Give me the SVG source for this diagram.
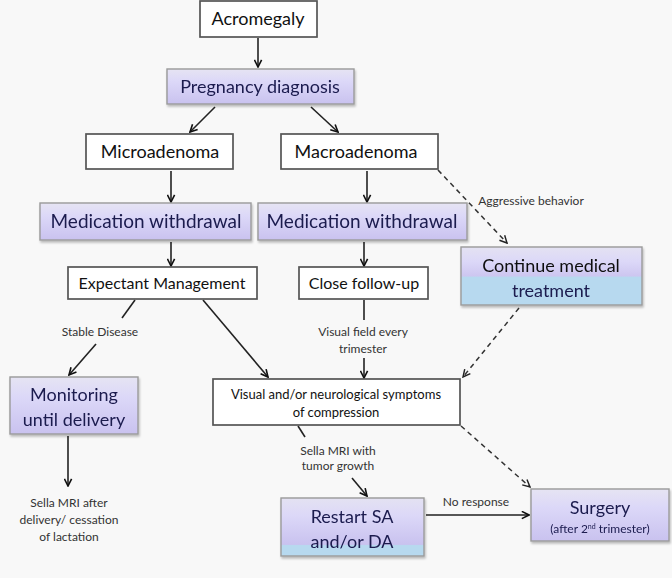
<svg xmlns="http://www.w3.org/2000/svg" width="672" height="578" viewBox="0 0 672 578">
<style>
text{font-family:Lato,"Open Sans","Liberation Sans",sans-serif;fill:#111;text-anchor:middle}
.w{fill:#fff;stroke:#555;stroke-width:1.7}
.p{fill:url(#lav);stroke:#9a9a9a;stroke-width:1.4}
.big{font-size:18px}
.nav{fill:#1a1a4e}
.sm{font-size:12px;fill:#333}
.ln{stroke:#222;stroke-width:1.6;fill:none}
.ds{stroke:#333;stroke-width:1.5;fill:none;stroke-dasharray:5 4}
</style>
<defs>
<linearGradient id="lav" x1="0" y1="0" x2="0" y2="1">
<stop offset="0" stop-color="#e6e4f3"/><stop offset="0.35" stop-color="#dcd8f8"/><stop offset="1" stop-color="#c9c2ef"/>
</linearGradient>
<linearGradient id="lavb1" x1="0" y1="0" x2="0" y2="1">
<stop offset="0" stop-color="#e4e2f2"/><stop offset="0.25" stop-color="#dcd8f8"/><stop offset="0.5" stop-color="#cdc6f0"/><stop offset="0.52" stop-color="#b7d9ef"/><stop offset="1" stop-color="#b7d9ef"/>
</linearGradient>
<linearGradient id="lavb2" x1="0" y1="0" x2="0" y2="1">
<stop offset="0" stop-color="#e4e2f2"/><stop offset="0.3" stop-color="#dcd8f8"/><stop offset="0.8" stop-color="#c9c2ef"/><stop offset="0.82" stop-color="#b7d9ef"/><stop offset="1" stop-color="#b7d9ef"/>
</linearGradient>
<filter id="sh" x="-10%" y="-10%" width="120%" height="130%"><feDropShadow dx="1" dy="2" stdDeviation="1.2" flood-color="#000" flood-opacity="0.25"/></filter>
<marker id="ah" viewBox="0 0 10 10" refX="9" refY="5" markerWidth="9" markerHeight="9" orient="auto" markerUnits="userSpaceOnUse"><path d="M1,1 L9,5 L1,9" fill="none" stroke="#111" stroke-width="1.8"/></marker>
<marker id="ahd" viewBox="0 0 10 10" refX="9" refY="5" markerWidth="9" markerHeight="9" orient="auto" markerUnits="userSpaceOnUse"><path d="M1,1 L9,5 L1,9" fill="none" stroke="#222" stroke-width="1.6"/></marker>
</defs>
<rect width="672" height="578" fill="#f8f8f8"/>

<g id="connectors">
<line class="ln" x1="258" y1="38" x2="258" y2="67" marker-end="url(#ah)"/>
<line class="ln" x1="215" y1="107" x2="190" y2="132" marker-end="url(#ah)"/>
<line class="ln" x1="311" y1="107" x2="338" y2="132" marker-end="url(#ah)"/>
<line class="ln" x1="171" y1="171" x2="171" y2="202" marker-end="url(#ah)"/>
<line class="ln" x1="367" y1="171" x2="367" y2="202" marker-end="url(#ah)"/>
<line class="ln" x1="171" y1="242" x2="171" y2="266" marker-end="url(#ah)"/>
<line class="ln" x1="364" y1="242" x2="364" y2="266" marker-end="url(#ah)"/>
<line class="ds" x1="438" y1="170" x2="507" y2="243" marker-end="url(#ahd)"/>
<text class="sm" x="531" y="205">Aggressive behavior</text>
<line class="ln" x1="135" y1="300" x2="122" y2="318"/>
<text class="sm" x="100" y="336">Stable Disease</text>
<line class="ln" x1="96" y1="344" x2="69" y2="375" marker-end="url(#ah)"/>
<line class="ln" x1="203" y1="300" x2="268" y2="377" marker-end="url(#ah)"/>
<line class="ln" x1="364" y1="300" x2="364" y2="320"/>
<text class="sm" x="363" y="336">Visual field every</text>
<text class="sm" x="363" y="353">trimester</text>
<line class="ln" x1="364" y1="358" x2="364" y2="378" marker-end="url(#ah)"/>
<line class="ds" x1="519" y1="308" x2="463" y2="377" marker-end="url(#ahd)"/>
<line class="ln" x1="68" y1="436" x2="68" y2="486" marker-end="url(#ah)"/>
<text class="sm" x="69" y="507">Sella MRI after</text>
<text class="sm" x="69" y="524">delivery/ cessation</text>
<text class="sm" x="69" y="541">of lactation</text>
<line class="ln" x1="298" y1="426" x2="305" y2="437"/>
<text class="sm" x="338" y="455">Sella MRI with</text>
<text class="sm" x="338" y="470">tumor growth</text>
<line class="ln" x1="352" y1="478" x2="367" y2="496" marker-end="url(#ah)"/>
<line class="ds" x1="461" y1="426" x2="530" y2="487" marker-end="url(#ahd)"/>
<line class="ln" x1="426" y1="515" x2="529" y2="515" marker-end="url(#ah)"/>
<text class="sm" x="476" y="506">No response</text>
</g>

<g id="acromegaly"><rect class="w" x="200" y="1" width="117" height="36"/><text class="big" x="258" y="25">Acromegaly</text></g>
<g id="pregnancy" filter="url(#sh)"><rect class="p" x="167" y="69" width="187" height="35"/><text class="big nav" x="260" y="93">Pregnancy diagnosis</text></g>
<g id="micro"><rect class="w" x="86" y="134" width="147" height="35"/><text class="big" x="160" y="158">Microadenoma</text></g>
<g id="macro"><rect class="w" x="281" y="134" width="157" height="35"/><text class="big" x="356" y="158">Macroadenoma</text></g>
<g id="medleft" filter="url(#sh)"><rect class="p" x="40" y="203" width="211" height="37"/><text x="146" y="228" font-size="19" class="nav">Medication withdrawal</text></g>
<g id="medright" filter="url(#sh)"><rect class="p" x="258" y="203" width="209" height="37"/><text x="362" y="228" font-size="19" class="nav">Medication withdrawal</text></g>
<g id="expectant"><rect class="w" x="68" y="267" width="189" height="32"/><text x="162" y="289" font-size="16">Expectant Management</text></g>
<g id="closefu"><rect class="w" x="299" y="267" width="129" height="32"/><text x="364" y="289" font-size="16">Close follow-up</text></g>
<g id="continue" filter="url(#sh)"><rect fill="url(#lavb1)" stroke="#9a9a9a" stroke-width="1.4" x="461" y="247" width="181" height="58"/><text class="big" x="551" y="272">Continue medical</text><text class="big nav" x="551" y="297">treatment</text></g>
<g id="monitoring" filter="url(#sh)"><rect class="p" x="10" y="377" width="128" height="57"/><text class="big nav" x="74" y="401">Monitoring</text><text class="big nav" x="74" y="426">until delivery</text></g>
<g id="symptoms"><rect class="w" x="213" y="379" width="247" height="46"/><text x="336" y="399" font-size="13">Visual and/or neurological symptoms</text><text x="336" y="417" font-size="13">of compression</text></g>
<g id="restart" filter="url(#sh)"><rect fill="url(#lavb2)" stroke="#9a9a9a" stroke-width="1.4" x="281" y="498" width="143" height="58"/><text class="big nav" x="352" y="523">Restart SA</text><text class="big nav" x="352" y="548">and/or DA</text></g>
<g id="surgery" filter="url(#sh)"><rect class="p" x="531" y="489" width="138" height="52"/><text class="big nav" x="600" y="514">Surgery</text><text x="600" y="533" font-size="12" class="nav">(after 2<tspan font-size="7" dy="-4">nd</tspan><tspan dy="4"> trimester)</tspan></text></g>
</svg>
